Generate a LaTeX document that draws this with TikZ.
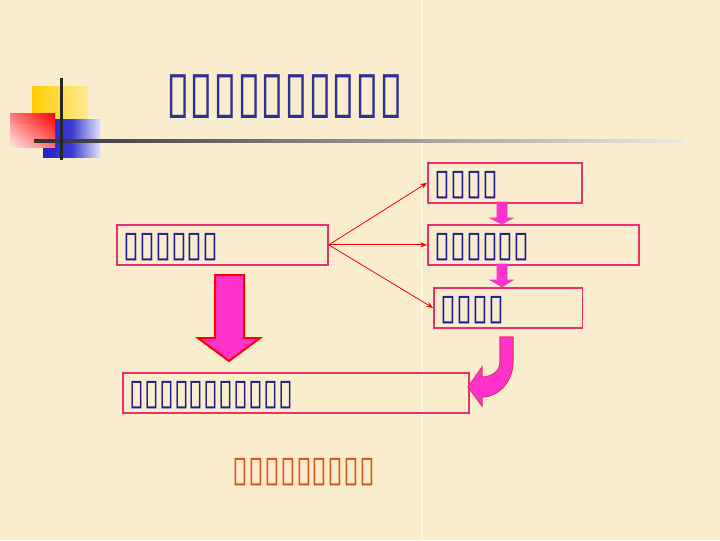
\documentclass[tikz,border=0pt]{standalone}
\usepackage{fontspec}
\newfontfamily\dv[FakeStretch=0.8]{DejaVu Sans}
\newfontfamily\dvt[FakeStretch=0.75]{DejaVu Sans}
\newfontfamily\dve[FakeStretch=0.75]{DejaVu Sans}
\usetikzlibrary{arrows.meta,shadings}
\definecolor{bg}{RGB}{250,237,205}
\definecolor{boxc}{RGB}{232,50,110}
\definecolor{navy}{RGB}{30,30,140}
\definecolor{titlec}{RGB}{46,49,146}
\definecolor{pinkf}{RGB}{255,51,204}
\definecolor{orangec}{RGB}{210,86,30}
\definecolor{yel1}{RGB}{255,204,0}
\definecolor{yel2}{RGB}{255,235,150}
\definecolor{blu1}{RGB}{34,34,200}
\definecolor{blu2}{RGB}{60,60,210}
\definecolor{blu3}{RGB}{225,225,250}
\definecolor{red1}{RGB}{255,0,0}
\definecolor{red2}{RGB}{255,230,230}
\definecolor{red3}{RGB}{255,120,120}
\definecolor{red4}{RGB}{255,110,110}
\definecolor{gr1}{RGB}{50,50,50}
\definecolor{gr2}{RGB}{235,235,230}
\tikzset{
  box/.style={draw=boxc, line width=1.3pt, anchor=north west, inner xsep=5pt, inner ysep=0pt,
    align=left, text=navy, font=\dv\fontsize{27pt}{28pt}\selectfont, minimum height=30pt, text height=18pt, text depth=0pt},
  thin/.style={draw=red, line width=0.6pt, -{Stealth[length=5pt,width=4pt]}},
  blockarrow/.style={fill=pinkf, draw=pinkf, line width=0.5pt},
}
\begin{document}
\begin{tikzpicture}[x=0.75pt,y=-0.75pt]
\fill[bg] (0,0) rectangle (720,540);
\useasboundingbox (0,0) rectangle (720,540);
\draw[white!40!bg, line width=0.8pt] (422,0) -- (422,540);
% decoration
\shade[left color=yel1, right color=yel2] (32,86) rectangle (88,140);
\shade[left color=blu1, right color=blu3, middle color=blu2] (43,119) rectangle (100,157);
\shade[upper right=red1, lower left=red2, upper left=red3, lower right=red4] (10,113) rectangle (55,147);
\shade[left color=gr1, right color=gr2] (34,139.5) rectangle (685,142.5);
\fill[black!85] (60,78) rectangle (62.5,160);
% title
\node[anchor=base west, text=titlec, font=\dvt\fontsize{43pt}{45pt}\selectfont, inner sep=0pt] (title) at (166,111) {▯▯▯▯▯▯▯▯▯▯};
% boxes
\node[box, text width=148.25pt] (A) at (116,224) {▯▯▯▯▯▯};
\node[box, text width=105.5pt] (B) at (427,162) {▯▯▯▯};
\node[box, text width=148.25pt] (C) at (427,224) {▯▯▯▯▯▯};
\node[box, text width=101.5pt] (D) at (433,287) {▯▯▯▯};
\node[box, text width=249.5pt, font=\dve\fontsize{27pt}{28pt}\selectfont] (E) at (122,372) {▯▯▯▯▯▯▯▯▯▯▯};
\node[anchor=base, text=orangec, font=\dv\fontsize{27pt}{28pt}\selectfont, inner sep=0pt] (note) at (304,481) {▯▯▯▯▯▯▯▯▯};
% thin arrows
\draw[thin] (A.east) -- (B.west);
\draw[thin] (A.east) -- (C.west);
\draw[thin] (A.east) -- (D.west);
% small block arrows
\path[blockarrow] (497,202) -- (507,202) -- (507,218) -- (513,218) -- (502,224) -- (490,218) -- (497,218) -- cycle;
\path[blockarrow] (497,264) -- (507,264) -- (507,280) -- (513,280) -- (502,287) -- (490,280) -- (497,280) -- cycle;
% big down arrow
\filldraw[fill=pinkf, draw=red, line width=1.5pt, line join=miter] (215,275) -- (244,275) -- (244,338) -- (260,338) -- (229,361) -- (198,338) -- (215,338) -- cycle;
% curved arrow
\filldraw[fill=pinkf, draw=boxc, line width=0.8pt] (500,337) -- (513,337) -- (513,362) .. controls (513,381) and (499,397) .. (482,397) -- (482,406) -- (468,387) -- (482,367) -- (482,377) .. controls (492,377) and (500,371) .. (500,362) -- cycle;
\end{tikzpicture}
\end{document}
